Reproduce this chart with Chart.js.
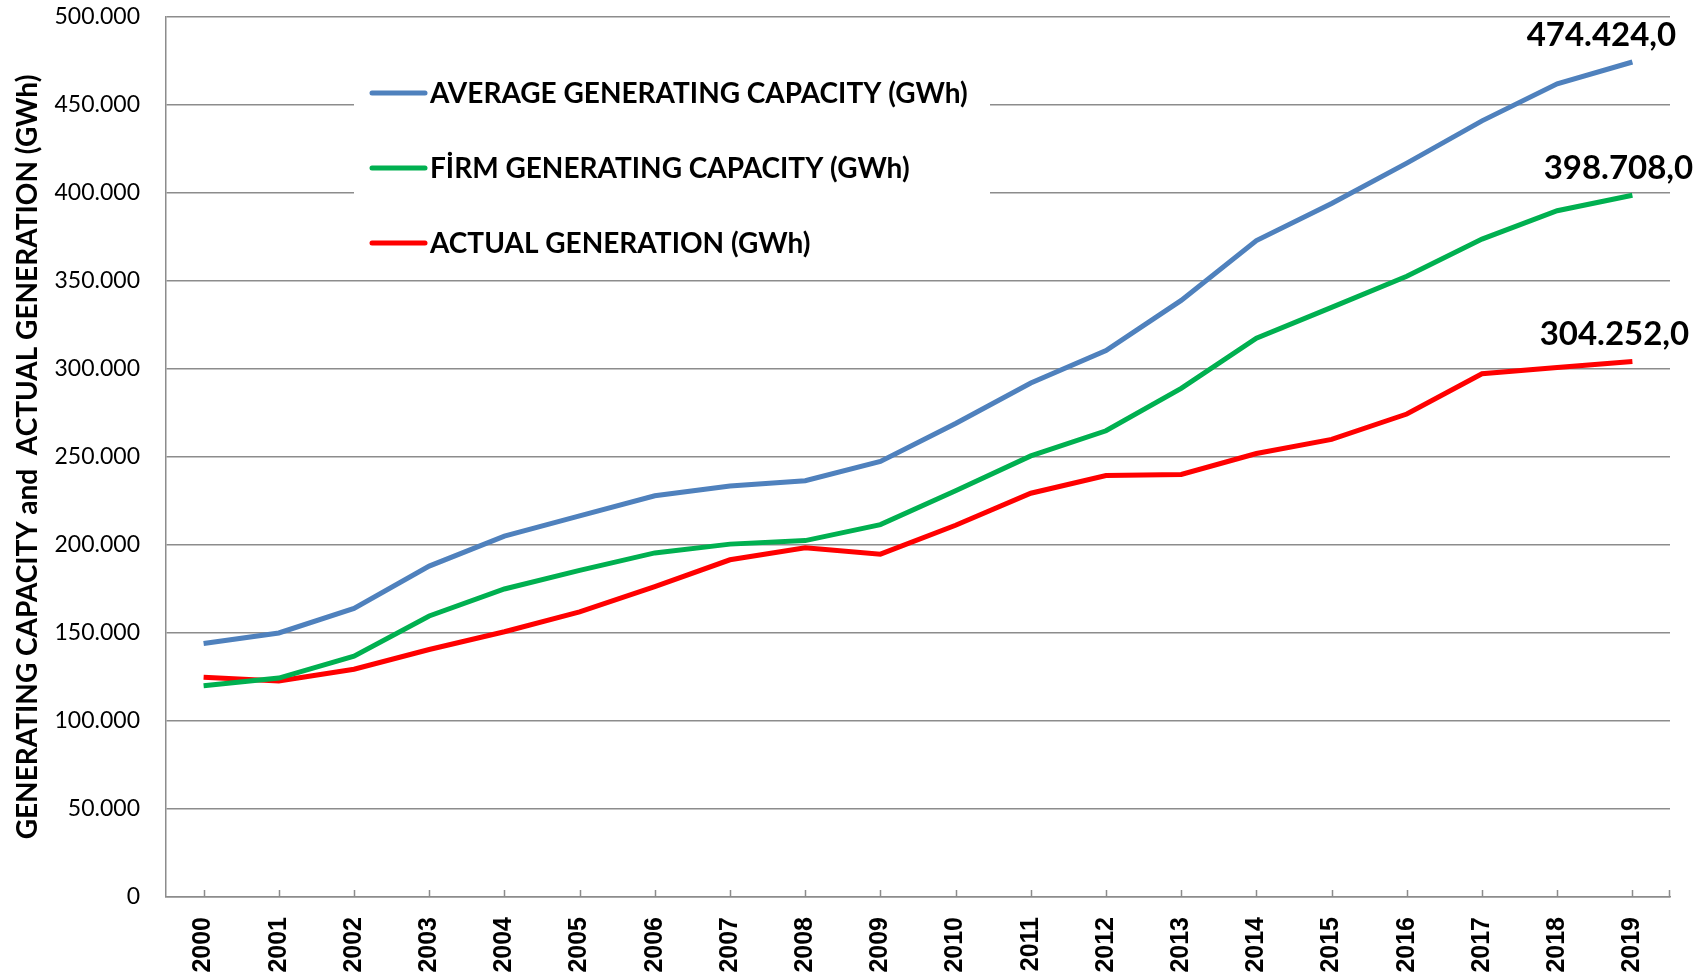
<!DOCTYPE html>
<html>
<head>
<meta charset="utf-8">
<script src="https://cdn.jsdelivr.net/npm/chart.js@4.4.1/dist/chart.umd.min.js"></script>
<style>
  html, body { margin: 0; padding: 0; background: #fff; }
  #wrap { width: 1708px; height: 977px; }
</style>
</head>
<body>
<div id="wrap"><canvas id="line-chart" width="1708" height="977"></canvas></div>
<script>
// values (GWh)
const years = ['2000', '2001', '2002', '2003', '2004', '2005', '2006', '2007', '2008', '2009',
               '2010', '2011', '2012', '2013', '2014', '2015', '2016', '2017', '2018', '2019'];
const averageCapacity = [144000, 150000, 164000, 188000, 205000, 216500, 228000, 233500, 236500, 247500,
                         269000, 292000, 310500, 339000, 373000, 394000, 417000, 441000, 462000, 474424];
const firmCapacity = [120000, 124400, 136800, 159700, 175000, 185600, 195500, 200500, 202500, 211600,
                      230800, 250600, 264900, 289000, 317500, 335000, 352700, 373800, 389900, 398708];
const actualGeneration = [124900, 122700, 129400, 140600, 150700, 162000, 176300, 191600, 198400, 194800,
                          211200, 229400, 239500, 240100, 252000, 260000, 274400, 297300, 300800, 304252];
const seriesNames = ['AVERAGE GENERATING CAPACITY (GWh)', 'FİRM GENERATING CAPACITY (GWh)', 'ACTUAL GENERATION (GWh)'];
const seriesColors = ['#4F81BD', '#00B050', '#FF0000'];
const endLabels = ['474.424,0', '398.708,0', '304.252,0'];
const yAxisTitle = 'GENERATING CAPACITY and  ACTUAL GENERATION (GWh)';

const gridGray = '#8c8c8c';

function fmtThousands(v) {
    return v.toString().replace(/\B(?=(\d{3})+(?!\d))/g, '.');
}

// white box with the series keys, sitting over the gridlines
const boxLegend = {
    id: 'boxLegend',
    beforeDatasetsDraw(chart) {
        const ctx = chart.ctx;
        ctx.save();
        ctx.fillStyle = '#fff';
        ctx.fillRect(354, 60, 636, 219);
        ctx.font = 'bold 28px Lato';
        ctx.textBaseline = 'middle';
        chart.data.datasets.forEach(function(ds, i) {
            const y = 93 + i * 75;
            ctx.strokeStyle = ds.borderColor;
            ctx.lineWidth = 5;
            ctx.lineCap = 'round';
            ctx.beginPath();
            ctx.moveTo(372, y);
            ctx.lineTo(425, y);
            ctx.stroke();
            ctx.fillStyle = '#000';
            ctx.fillText(ds.label, 430, y + 1);
        });
        ctx.restore();
    }
};

// small ticks pointing up from the x axis, plus value labels at the last points
const extras = {
    id: 'extras',
    afterDatasetsDraw(chart) {
        const ctx = chart.ctx;
        const xs = chart.scales.x;
        const bottom = chart.chartArea.bottom;
        ctx.save();
        ctx.strokeStyle = gridGray;
        ctx.lineWidth = 1.5;
        ctx.beginPath();
        years.forEach(function(y, i) {
            const px = Math.round(xs.getPixelForValue(i)) + 0.5;
            ctx.moveTo(px, bottom);
            ctx.lineTo(px, bottom - 7);
        });
        ctx.moveTo(chart.chartArea.right - 0.5, bottom);
        ctx.lineTo(chart.chartArea.right - 0.5, bottom - 7);
        ctx.stroke();

        ctx.font = 'bold 33px Lato';
        ctx.fillStyle = '#000';
        ctx.textAlign = 'center';
        ctx.textBaseline = 'middle';
        const shifts = [-31, -14, -18];
        chart.data.datasets.forEach(function(ds, i) {
            const meta = chart.getDatasetMeta(i);
            const pt = meta.data[meta.data.length - 1];
            ctx.fillText(endLabels[i], pt.x + shifts[i], pt.y - 27);
        });
        ctx.restore();
    }
};

const config = {
    type: 'line',
    data: {
        labels: years,
        datasets: [averageCapacity, firmCapacity, actualGeneration].map(function(vals, i) {
            return {
                label: seriesNames[i],
                data: vals,
                borderColor: seriesColors[i],
                backgroundColor: seriesColors[i],
                borderWidth: 5,
                pointRadius: 0,
                pointHoverRadius: 0,
                tension: 0,
                fill: false
            };
        })
    },
    options: {
        responsive: false,
        animation: false,
        events: [],
        layout: { padding: { top: 17, right: 38, left: 0, bottom: 0 } },
        plugins: {
            legend: { display: false },
            tooltip: { enabled: false },
            title: { display: false }
        },
        scales: {
            x: {
                offset: true,
                grid: { display: false, drawTicks: false },
                border: { display: true, color: gridGray, width: 1.5 },
                ticks: {
                    autoSkip: false,
                    maxRotation: 90,
                    minRotation: 90,
                    padding: 20,
                    color: '#000',
                    font: { family: 'Liberation Sans', weight: 'bold', size: 25 }
                },
                afterFit(scale) {
                    scale.height = 80;
                    scale.paddingLeft = 0;
                    scale.paddingRight = 0;
                }
            },
            y: {
                min: 0,
                max: 500000,
                ticks: {
                    stepSize: 50000,
                    padding: 26,
                    color: '#000',
                    font: { family: 'Lato', size: 23 },
                    callback: function(v) { return fmtThousands(v); }
                },
                grid: { color: gridGray, lineWidth: 1.5, drawTicks: false },
                border: { display: true, color: gridGray, width: 1.5 },
                title: {
                    display: true,
                    text: yAxisTitle,
                    color: '#000',
                    font: { family: 'Lato', weight: 'bold', size: 28 },
                    padding: { top: 11, bottom: 0 }
                },
                afterFit(scale) {
                    scale.width = 166;
                    scale.paddingTop = 0;
                    scale.paddingBottom = 0;
                }
            }
        }
    },
    plugins: [boxLegend, extras]
};

window.onload = function() {
    let ctx = document.getElementById('line-chart').getContext('2d');
    window.myLine = new Chart(ctx, config);
};
</script>
</body>
</html>
